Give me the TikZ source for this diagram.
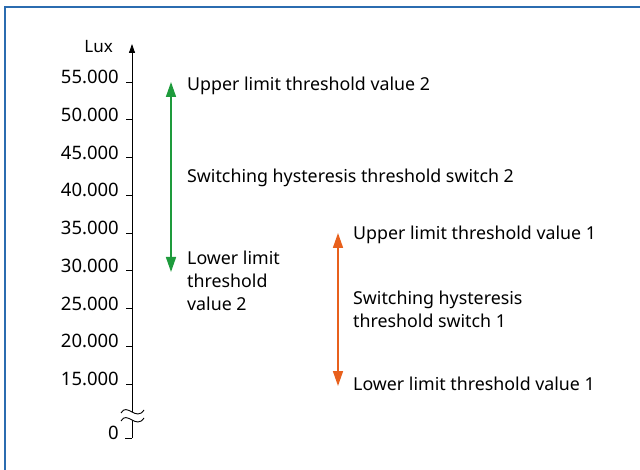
\documentclass[tikz,border=0pt]{standalone}
\usepackage{fontspec}
\setmainfont{Noto Sans}
\usetikzlibrary{arrows.meta}
\definecolor{framecol}{HTML}{2B6CB0}
\definecolor{grn}{HTML}{1E9B3C}
\definecolor{org}{HTML}{E8601C}
\tikzset{
  lbl/.style={font=\fontsize{17.8}{23}\selectfont, inner sep=0pt, anchor=west, align=left},
  ticklbl/.style={font=\fontsize{18.5}{20}\selectfont, inner sep=0pt, anchor=east},
  tickmark/.style={line width=0.8pt},
  hyst/.style={line width=1.6pt, {Triangle[width=10pt,length=15pt]}-{Triangle[width=10pt,length=15pt]}},
}
\begin{document}
\begin{tikzpicture}[x=1pt,y=-1pt]
\useasboundingbox (0,0) rectangle (640,470);
\fill[white] (0,0) rectangle (640,470);
% frame
\draw[framecol, line width=2pt] (5,470) -- (5,7.5) -- (640,7.5);
% axis
\coordinate (a0) at (132,438);
\coordinate (atop) at (132,44);
\draw[line width=0.8pt, -{Triangle[width=6pt,length=9pt]}] (a0) -- (atop);
\node[font=\fontsize{17}{19}\selectfont, inner sep=0pt, anchor=east] (lux) at (113,47) {Lux};
% ticks
\foreach \v [count=\i from 0] in {55,50,45,40,35,30,25,20,15}{
  \pgfmathsetmacro{\yy}{82+\i*37.75}
  \draw[tickmark] (126,\yy) -- (132,\yy);
  \node[ticklbl] (t\v) at (119,\yy-5) {\v.000};
}
\draw[tickmark] (125,438) -- (132,438);
\node[ticklbl] (t0) at (119,433) {0};
% break symbol
\fill[white] (121,413) .. controls (127,402) and (136,422) .. (144,410) -- (144,418) .. controls (136,430) and (127,410) .. (121,421) -- cycle;
\draw[line width=0.9pt] (121,413) .. controls (127,402) and (136,422) .. (144,410);
\draw[line width=0.9pt] (121,421) .. controls (127,410) and (136,430) .. (144,418);
% green hysteresis
\coordinate (g1) at (171,82);
\coordinate (g2) at (171,272);
\draw[hyst, grn] (g2) -- (g1);
\node[lbl] (u2) at (187,86) {Upper limit threshold value 2};
\node[lbl] (s2) at (187,178) {Switching hysteresis threshold switch 2};
\node[lbl] (l2) at (187,281) {Lower limit\\threshold\\value 2};
% orange hysteresis
\coordinate (o1) at (338,233);
\coordinate (o2) at (338,386);
\draw[hyst, org] (o2) -- (o1);
\node[lbl] (u1) at (353,235) {Upper limit threshold value 1};
\node[lbl] (s1) at (353,309.5) {Switching hysteresis\\threshold switch 1};
\node[lbl] (l1) at (353,384) {Lower limit threshold value 1};
\end{tikzpicture}
\end{document}
